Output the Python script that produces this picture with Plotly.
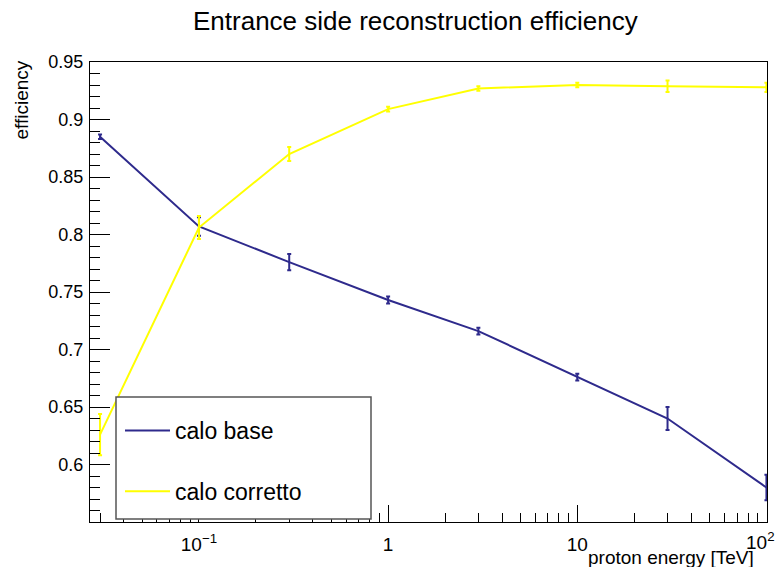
import plotly.graph_objects as go

energy = [0.03, 0.1, 0.3, 1, 3, 10, 30, 100]
base_eff = [0.885, 0.807, 0.776, 0.743, 0.716, 0.676, 0.640, 0.580]
base_err = [0.002, 0.008, 0.007, 0.003, 0.003, 0.003, 0.010, 0.011]
corr_eff = [0.626, 0.806, 0.870, 0.909, 0.927, 0.930, 0.929, 0.928]
corr_err = [0.018, 0.010, 0.006, 0.002, 0.002, 0.002, 0.005, 0.004]

x_tickvals = [0.1, 1, 10, 100]
x_ticktext = ["10<sup>−1</sup>", "1", "10", ""]
x_last_label = "10<sup>2</sup>"
y_tickvals = [0.6, 0.65, 0.7, 0.75, 0.8, 0.85, 0.9, 0.95]
y_ticktext = ["0.6", "0.65", "0.7", "0.75", "0.8", "0.85", "0.9", "0.95"]

navy = "#2e2a8c"
yellow = "#ffff00"
FONT = "Liberation Sans, Arial, sans-serif"

fig = go.Figure()
fig.add_trace(go.Scatter(
    x=energy, y=base_eff, mode="lines", name="calo base", legendgroup="a",
    line=dict(color=navy, width=2),
    error_y=dict(type="data", array=base_err, color=navy, thickness=2, width=2),
))
fig.add_trace(go.Scatter(
    x=energy, y=corr_eff, mode="lines", name="calo corretto", legendgroup="b",
    line=dict(color=yellow, width=2),
    error_y=dict(type="data", array=corr_err, color=yellow, thickness=2, width=2),
))

W, H = 777, 567
L, R, T, B = 90, 10, 62, 45
pw, ph = W - L - R, H - T - B

def px(xp):
    return (xp - L) / pw

def py(yp):
    return (H - B - yp) / ph

# legend box
fig.add_shape(type="rect", xref="paper", yref="paper",
              x0=px(116), x1=px(371), y0=py(519), y1=py(397),
              fillcolor="white", line=dict(color="#555555", width=1.5), layer="above")

fig.update_layout(
    width=W, height=H,
    margin=dict(l=L, r=R, t=T, b=B, autoexpand=False),
    paper_bgcolor="white", plot_bgcolor="white",
    font=dict(family=FONT, color="black"),
    showlegend=True,
    legend=dict(x=px(120), y=py(409), xanchor="left", yanchor="top",
                bgcolor="rgba(0,0,0,0)", borderwidth=0,
                font=dict(size=23, family=FONT), tracegroupgap=28,
                itemwidth=45),
    xaxis=dict(type="log", range=[-1.576, 2.003], showline=True, linecolor="black",
               linewidth=1, mirror=True, ticks="inside", ticklen=17, tickcolor="black",
               tickvals=x_tickvals, ticktext=x_ticktext, tickfont=dict(size=19),
               ticklabelstandoff=5, automargin=False,
               showgrid=False, zeroline=False,
               minor=dict(ticks="inside", ticklen=9, tickcolor="black", dtick="D1", showgrid=False)),
    yaxis=dict(range=[0.55, 0.95], showline=True, linecolor="black", linewidth=1,
               mirror=True, ticks="inside", ticklen=20, tickcolor="black",
               tickvals=y_tickvals, ticktext=y_ticktext, tickfont=dict(size=18),
               ticklabelstandoff=2, automargin=False,
               showgrid=False, zeroline=False,
               minor=dict(ticks="inside", ticklen=10, tickcolor="black", dtick=0.01, showgrid=False)),
    annotations=[
        dict(text="Entrance side reconstruction efficiency", xref="paper", yref="paper",
             x=px(415), y=py(21), xanchor="center", yanchor="middle",
             showarrow=False, font=dict(size=26, family=FONT)),
        dict(text="efficiency", xref="paper", yref="paper", x=px(21), y=py(59),
             xanchor="center", yanchor="top", textangle=-90, showarrow=False,
             font=dict(size=19, family=FONT)),
        dict(text="proton energy [TeV]", xref="paper", yref="paper", x=px(756), y=py(557),
             xanchor="right", yanchor="middle", showarrow=False,
             font=dict(size=19, family=FONT)),
        dict(text=x_last_label, xref="paper", yref="paper", x=px(777), y=py(541),
             xanchor="right", yanchor="middle", showarrow=False,
             font=dict(size=19, family=FONT)),
    ],
)

fig.write_html("out.html", config={"displayModeBar": False},
               post_script="document.body.style.margin='0';")
